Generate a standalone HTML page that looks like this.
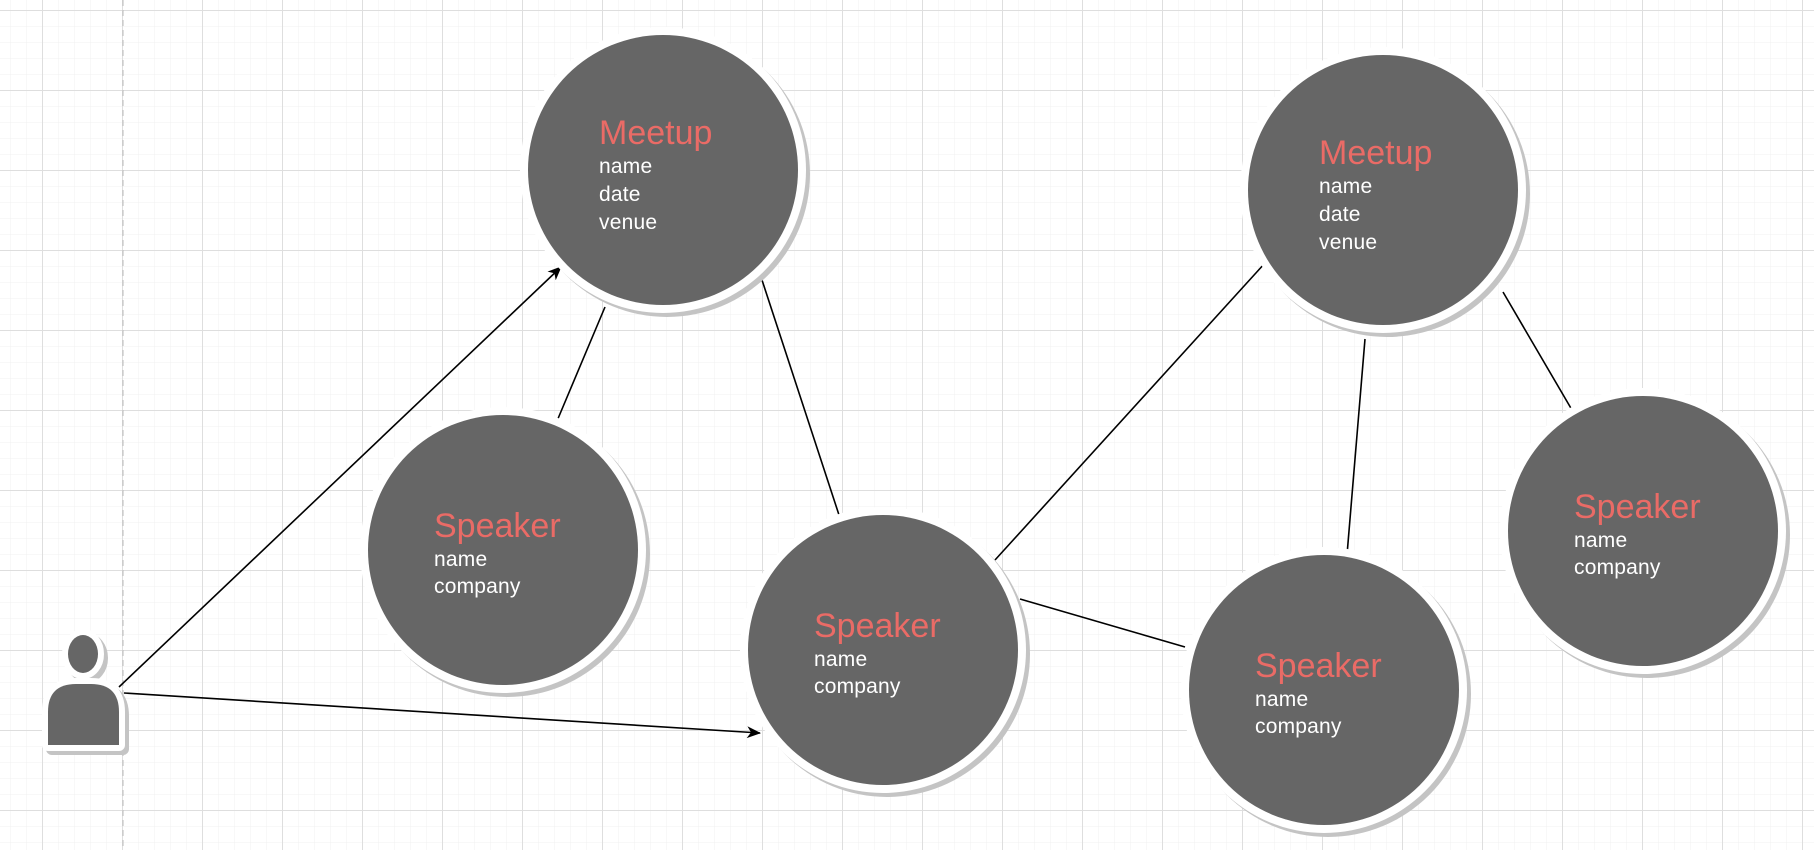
<!DOCTYPE html>
<html><head><style>
html,body{margin:0;padding:0;width:1814px;height:850px;overflow:hidden;background:#fff}
svg{display:block}
.t{font-family:"Liberation Sans",Arial,sans-serif;fill:#ea6b66;font-size:34px}
.a{font-family:"Liberation Sans",Arial,sans-serif;fill:#fff;font-size:21px;letter-spacing:0.2px}
</style></head><body>
<svg width="1814" height="850" xmlns="http://www.w3.org/2000/svg">
<defs>
<pattern id="minor" x="10" y="10" width="16" height="16" patternUnits="userSpaceOnUse">
<path d="M16 0H0V16" fill="none" stroke="#f0f0f0" stroke-width="1"/></pattern>
<pattern id="major" x="42" y="10" width="80" height="80" patternUnits="userSpaceOnUse">
<path d="M80 0.5H0.5V80" fill="none" stroke="#dedede" stroke-width="1"/></pattern>
<marker id="ar" markerWidth="14" markerHeight="12" refX="13" refY="6" orient="auto" markerUnits="userSpaceOnUse">
<path d="M0,0 L14,6 L0,12 L4,6 Z" fill="#000"/></marker>
</defs>
<rect width="1814" height="850" fill="#fff"/>
<rect width="1814" height="850" fill="url(#minor)"/>
<rect width="1814" height="850" fill="url(#major)"/>
<line x1="123" y1="0" x2="123" y2="850" stroke="#bbb" stroke-dasharray="6,4"/>

<g stroke="#000" stroke-width="1.6" fill="none">
<line x1="119" y1="687" x2="561" y2="267" marker-end="url(#ar)"/>
<line x1="124" y1="693" x2="760" y2="733" marker-end="url(#ar)"/>
<line x1="605" y1="307" x2="557" y2="421"/>
<line x1="762" y1="280" x2="840" y2="518"/>
<line x1="1265" y1="263" x2="995" y2="560"/>
<line x1="1020" y1="599" x2="1185" y2="647"/>
<line x1="1365" y1="339" x2="1347" y2="555"/>
<line x1="1503" y1="292" x2="1572" y2="410"/>
</g>

<!-- person -->
<g transform="translate(4,4)" fill="#c4c4c4" stroke="#c4c4c4" stroke-width="12" stroke-linejoin="round">
<ellipse cx="83" cy="654" rx="15" ry="19"/>
<path d="M48 745 V712 Q48 684 76 684 H91 Q119 684 119 712 V745 Z"/>
</g>
<g fill="#fff" stroke="#fff" stroke-width="12" stroke-linejoin="round">
<ellipse cx="83" cy="654" rx="15" ry="19"/>
<path d="M48 745 V712 Q48 684 76 684 H91 Q119 684 119 712 V745 Z"/>
</g>
<ellipse cx="83" cy="654" rx="15" ry="19" fill="#666"/>
<path d="M48 745 V712 Q48 684 76 684 H91 Q119 684 119 712 V745 Z" fill="#666"/>

<g>
<circle cx="667" cy="174" r="143" fill="#c4c4c4"/><circle cx="663" cy="170" r="143" fill="#fff"/><circle cx="663" cy="170" r="135" fill="#666"/>
<text class="t" x="599" y="144">Meetup</text>
<text class="a" x="599" y="173">name</text><text class="a" x="599" y="201">date</text><text class="a" x="599" y="229">venue</text>
</g>
<g>
<circle cx="1387" cy="194" r="143" fill="#c4c4c4"/><circle cx="1383" cy="190" r="143" fill="#fff"/><circle cx="1383" cy="190" r="135" fill="#666"/>
<text class="t" x="1319" y="164">Meetup</text>
<text class="a" x="1319" y="193">name</text><text class="a" x="1319" y="221">date</text><text class="a" x="1319" y="249">venue</text>
</g>
<g>
<circle cx="507" cy="554" r="143" fill="#c4c4c4"/><circle cx="503" cy="550" r="143" fill="#fff"/><circle cx="503" cy="550" r="135" fill="#666"/>
<text class="t" x="434" y="537">Speaker</text>
<text class="a" x="434" y="566">name</text><text class="a" x="434" y="593">company</text>
</g>
<g>
<circle cx="887" cy="654" r="143" fill="#c4c4c4"/><circle cx="883" cy="650" r="143" fill="#fff"/><circle cx="883" cy="650" r="135" fill="#666"/>
<text class="t" x="814" y="637">Speaker</text>
<text class="a" x="814" y="666">name</text><text class="a" x="814" y="693">company</text>
</g>
<g>
<circle cx="1328" cy="694" r="143" fill="#c4c4c4"/><circle cx="1324" cy="690" r="143" fill="#fff"/><circle cx="1324" cy="690" r="135" fill="#666"/>
<text class="t" x="1255" y="677">Speaker</text>
<text class="a" x="1255" y="706">name</text><text class="a" x="1255" y="733">company</text>
</g>
<g>
<circle cx="1647" cy="535" r="143" fill="#c4c4c4"/><circle cx="1643" cy="531" r="143" fill="#fff"/><circle cx="1643" cy="531" r="135" fill="#666"/>
<text class="t" x="1574" y="518">Speaker</text>
<text class="a" x="1574" y="547">name</text><text class="a" x="1574" y="574">company</text>
</g>
</svg>
</body></html>
